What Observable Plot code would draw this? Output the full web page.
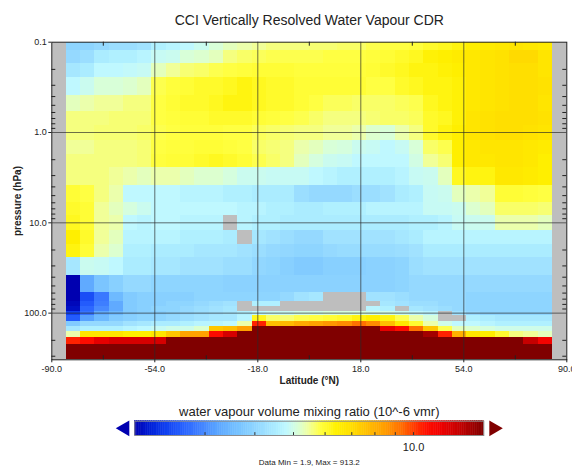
<!DOCTYPE html>
<html>
<head>
<meta charset="utf-8">
<script src="https://cdn.jsdelivr.net/npm/d3@7"></script>
<script src="https://cdn.jsdelivr.net/npm/@observablehq/plot@0.6"></script>
<style>
  html, body { margin: 0; padding: 0; background: #fff; }
  #wrap { width: 572px; height: 467px; overflow: hidden; background: #fff; }
  #wrap svg { display: block; }
</style>
</head>
<body>
<div id="wrap"></div>
<script>
// ---------- text ----------
const chartTitle = "CCI Vertically Resolved Water Vapour CDR";
const xLabel = "Latitude (°N)";
const yLabel = "pressure (hPa)";
const colorbarTitle = "water vapour volume mixing ratio (10^-6 vmr)";
const dataMin = 1.9;
const dataMax = 913.2;

// ---------- grid ----------
const latitudes = [-82.5,-77.5,-72.5,-67.5,-62.5,-57.5,-52.5,-47.5,-42.5,-37.5,-32.5,-27.5,-22.5,-17.5,-12.5,-7.5,-2.5,
  2.5,7.5,12.5,17.5,22.5,27.5,32.5,37.5,42.5,47.5,52.5,57.5,62.5,67.5,72.5,77.5,82.5];
const latitudeDomain = [-90, 90];
const pressureLevels = [0.1,0.15,0.2,0.3,0.5,0.7,1,1.5,2,3,5,7,10,15,20,30,50,70,80,90,100,115,130,150,170,200,250,300];

// ---------- ticks ----------
const xMajorTicks = [-90,-54,-18,18,54,90];
const xGridTicks = [-54,-18,18,54];
const xMinorTicks = [-72,-36,0,36,72];
const yMajorTicks = [0.1,1,10,100];
const yGridTicks = [1,10,100];
const yMinorTicks = [0.2,0.3,0.4,0.5,0.6,0.7,0.8,0.9,2,3,4,5,6,7,8,9,20,30,40,50,60,70,80,90,200,300];

// ---------- colour bar ----------
const colorDomain = [2, 15];
const colorbarTicks = [3,4,5,6,7,8,9,10];
const colorbarLabels = [10];
const colorStopValues = [2.0,2.2,2.4,2.65,2.92,3.2,3.53,3.9,4.29,4.6,4.81,5.15,5.47,5.86,6.46,6.97,7.66,8.44,9.32,10.0,10.8,11.7,13.2,15];
const colorStopColors = ["#0000b0","#0020d8","#1040f0","#2862ff","#4080ff","#58a2ff","#70bcff","#88d0ff","#a0e2ff","#b0f0ff","#c0f8ff","#d8ffd8","#f0ffa0","#ffff40","#fff000","#ffe000","#ffc000","#ffa000","#ff7000","#ff4000","#ff1000","#f00000","#c00000","#800000"];

// ---------- water vapour (ppmv), one array per pressure level, values by latitude ----------
const wv_0p1  = [4.0,4.0,4.1,4.2,4.2,4.3,4.6,4.7,4.8,4.95,5.15,5.3,5.4,5.5,5.6,5.6,5.6,5.65,5.65,5.7,5.7,5.8,5.85,5.85,5.9,6.05,6.15,6.3,6.5,6.6,6.7,6.8,6.7,6.6];
const wv_0p15 = [4.1,4.2,4.5,4.6,4.6,4.7,4.9,4.95,5.15,5.2,5.3,5.6,5.7,5.75,5.8,5.8,5.8,5.8,5.85,5.85,5.85,5.9,5.95,6.05,6.15,6.4,6.5,6.6,6.7,6.8,6.9,7.1,7.1,6.8];
const wv_0p2  = [4.4,4.5,4.8,4.8,4.85,4.9,5.3,5.5,5.65,5.7,5.8,5.85,5.9,5.95,5.95,5.95,5.9,5.9,5.9,5.9,5.9,5.95,6.05,6.15,6.3,6.3,6.4,6.5,6.7,6.8,6.9,7.0,7.0,6.8];
const wv_0p3  = [4.8,4.95,5.15,5.15,5.2,5.3,5.8,5.9,5.95,6.05,6.05,6.15,6.3,6.15,6.05,6.05,5.95,5.95,5.95,5.95,5.95,5.85,5.85,6.05,6.15,6.3,6.3,6.4,6.7,6.8,6.9,7.0,7.0,6.9];
const wv_0p5  = [5.3,5.4,5.5,5.5,5.6,5.6,5.85,5.95,6.05,6.05,6.15,6.3,6.3,6.15,6.05,6.05,5.95,5.85,5.75,5.75,5.7,5.7,5.7,5.75,5.8,6.15,6.3,6.4,6.7,6.8,6.9,7.0,7.0,6.8];
const wv_0p7  = [5.6,5.6,5.6,5.65,5.65,5.65,5.85,5.9,5.95,5.95,6.05,6.05,6.05,5.95,5.9,5.85,5.8,5.7,5.6,5.6,5.6,5.65,5.7,5.7,5.75,6.05,6.15,6.4,6.8,6.9,7.0,7.0,7.0,6.9];
const wv_1    = [5.6,5.6,5.65,5.65,5.65,5.7,5.8,5.85,5.9,5.9,5.9,5.85,5.85,5.75,5.7,5.65,5.6,5.6,5.5,5.5,5.4,5.2,5.15,5.4,5.6,6.05,6.3,6.5,6.8,6.9,7.0,7.0,6.9,6.8];
const wv_1p5  = [5.5,5.5,5.6,5.6,5.6,5.65,5.85,5.9,5.9,5.95,5.95,5.9,5.85,5.7,5.65,5.6,5.4,5.3,5.15,5.1,4.95,4.9,4.8,4.9,5.15,5.7,5.8,6.5,6.7,6.8,6.8,6.8,6.7,6.6];
const wv_2    = [5.6,5.6,5.6,5.6,5.6,5.65,5.9,5.95,5.95,6.05,6.15,6.05,5.95,5.8,5.7,5.6,5.3,5.1,4.95,4.9,4.8,4.8,4.8,4.8,5.05,5.5,5.65,6.5,6.7,6.7,6.8,6.8,6.7,6.5];
const wv_3    = [5.6,5.6,5.6,5.5,5.4,5.3,5.4,5.4,5.3,5.2,5.2,5.1,4.95,4.95,4.9,4.9,4.9,4.8,4.7,4.6,4.6,4.6,4.6,4.7,4.9,4.95,5.3,6.15,6.3,6.3,6.7,6.7,6.6,6.5];
const wv_5    = [5.95,5.85,5.6,5.4,4.8,4.8,4.8,4.8,4.7,4.7,4.7,4.6,4.6,4.5,4.5,4.5,4.2,4.1,4.1,4.1,4.2,4.2,4.3,4.5,4.6,4.9,4.95,5.3,5.4,5.5,5.95,5.95,5.9,5.85];
const wv_7    = [6.05,5.95,5.5,5.3,5.1,4.95,4.8,4.8,4.8,4.8,4.8,4.8,4.7,4.7,4.6,4.6,4.5,4.5,4.6,4.6,4.6,4.7,4.7,4.7,4.7,4.9,4.9,4.95,5.2,5.3,5.7,5.7,5.7,5.65];
const wv_10   = [6.15,5.95,5.5,5.4,4.8,4.7,4.8,4.8,4.7,4.7,4.7,null,4.7,4.6,4.6,4.5,4.5,4.5,4.5,4.5,4.5,4.5,4.5,4.5,4.6,4.6,4.7,4.9,4.95,4.95,5.4,5.4,5.4,5.3];
const wv_15   = [6.5,6.05,5.5,5.3,4.7,4.7,4.7,4.7,4.6,4.6,4.6,4.5,null,4.4,4.3,4.2,4.1,4.1,4.3,4.3,4.3,4.3,4.3,4.4,4.5,4.7,4.7,4.7,4.7,4.7,4.7,4.7,4.7,4.7];
const wv_20   = [6.3,5.95,5.4,5.2,4.6,4.6,4.5,4.5,4.5,4.4,4.4,4.4,4.3,4.2,4.1,4.05,4.0,4.0,4.1,4.15,4.15,4.15,4.15,4.2,4.3,4.5,4.5,4.5,4.5,4.5,4.5,4.5,4.5,4.5];
const wv_30   = [4.4,4.95,4.9,4.8,4.5,4.5,4.4,4.4,4.3,4.3,4.3,4.2,4.2,4.05,4.0,3.9,3.8,3.8,3.9,3.9,3.9,3.95,3.95,4.0,4.2,4.3,4.3,4.3,4.3,4.3,4.3,4.3,4.3,4.3];
const wv_50   = [2.0,3.3,3.7,3.9,4.1,4.1,4.0,4.0,4.0,4.0,4.0,3.95,3.95,3.95,3.95,3.95,3.95,3.95,3.95,3.95,3.95,3.95,3.95,4.0,4.1,4.1,4.1,4.1,4.1,4.1,4.1,4.1,4.1,4.1];
const wv_70   = [2.0,2.5,2.85,3.5,3.8,3.9,3.9,3.9,3.9,4.0,4.0,4.0,4.0,4.0,4.0,4.1,4.3,4.4,null,null,null,4.3,4.3,4.2,4.1,4.1,4.1,4.1,4.0,4.0,4.0,4.0,4.0,4.0];
const wv_80   = [2.05,2.6,2.9,3.3,3.8,3.9,3.9,4.0,4.0,4.1,4.2,4.3,null,4.6,4.6,null,null,null,null,null,null,null,4.4,4.3,4.2,4.2,4.1,4.1,4.0,4.0,4.0,4.0,4.0,4.0];
const wv_90   = [2.1,2.7,3.0,3.3,3.8,3.9,4.0,4.0,4.1,4.2,4.3,4.4,null,null,null,null,null,null,null,null,null,4.7,4.6,null,4.4,4.3,4.2,4.1,4.0,4.0,4.0,4.0,4.0,4.0];
const wv_100  = [2.4,2.8,3.3,3.5,3.8,3.9,3.9,4.0,4.1,4.2,4.3,4.4,4.6,4.8,4.9,4.9,5.0,5.0,5.1,5.1,5.1,5.0,5.0,4.9,4.8,4.7,null,4.3,4.1,4.0,4.0,4.0,4.0,4.0];
const wv_115  = [2.6,3.2,3.5,3.8,3.9,4.0,4.0,4.1,4.2,4.3,4.4,4.4,4.7,6.2,5.7,5.65,5.8,5.85,5.95,6.05,6.3,6.5,6.3,5.8,5.4,5.1,null,null,4.6,4.5,4.4,4.4,4.4,4.4];
const wv_130  = [3.8,4.1,4.1,4.1,4.3,4.4,4.5,4.5,4.6,4.7,4.7,4.8,5.4,10.5,7.7,7.8,8.2,8.4,8.6,8.8,9.3,8.8,7.7,6.7,6.0,5.4,5.0,4.8,4.8,4.7,4.6,4.6,4.6,4.6];
const wv_150  = [4.4,4.6,4.6,4.6,4.7,4.8,4.9,5.0,5.0,5.2,7.5,7.7,8.4,16,16,16,16,16,16,16,16,16,12,11,9.3,7.5,5.8,5.3,5.2,5.1,5.0,5.0,5.0,5.0];
const wv_170  = [5.4,6.8,6.8,6.8,6.5,6.5,6.8,7.5,8.4,8.4,11,12.5,16,16,16,16,16,16,16,16,16,16,16,16,16,14,10.5,8.0,6.7,6.5,6.0,5.6,5.5,5.3];
const wv_200  = [10.5,11,12,12.5,12.5,12.5,12.5,15,16,16,16,16,16,16,16,16,16,16,16,16,16,16,16,16,16,16,16,16,16,16,16,16,13,11.5];
const wv_250  = [16,16,16,16,16,16,16,16,16,16,16,16,16,16,16,16,16,16,16,16,16,16,16,16,16,16,16,16,16,16,16,16,16,16];
const wv_300  = [16,16,16,16,16,16,16,16,16,16,16,16,16,16,16,16,16,16,16,16,16,16,16,16,16,16,16,16,16,16,16,16,16,16];

const profiles = [wv_0p1,wv_0p15,wv_0p2,wv_0p3,wv_0p5,wv_0p7,wv_1,wv_1p5,wv_2,wv_3,wv_5,wv_7,wv_10,wv_15,wv_20,wv_30,wv_50,wv_70,wv_80,wv_90,wv_100,wv_115,wv_130,wv_150,wv_170,wv_200,wv_250,wv_300];

// ---------- build cells ----------
const halfLat = (latitudes[1] - latitudes[0]) / 2;
const nLev = pressureLevels.length;
const pEdges = [pressureLevels[0]];
for (let i = 0; i < nLev - 1; i++) pEdges.push(Math.sqrt(pressureLevels[i] * pressureLevels[i + 1]));
pEdges.push(pressureLevels[nLev - 1] * Math.sqrt(pressureLevels[nLev - 1] / pressureLevels[nLev - 2]));
const pressureDomain = [pEdges[0], pEdges[nLev]];

const cells = [];
profiles.forEach((row, i) => {
  row.forEach((v, j) => {
    if (v == null) return;
    cells.push({x1: latitudes[j] - halfLat, x2: latitudes[j] + halfLat, y1: pEdges[i], y2: pEdges[i + 1], v});
  });
});

// ---------- colour scale ----------
const lo = Math.log(colorDomain[0]), hi = Math.log(colorDomain[1]);
const stopT = colorStopValues.map(v => (Math.log(v) - lo) / (hi - lo));
function interpolator(t) {
  t = Math.max(0, Math.min(1, t));
  let i = d3.bisectRight(stopT, t) - 1;
  i = Math.max(0, Math.min(stopT.length - 2, i));
  const u = (t - stopT[i]) / (stopT[i + 1] - stopT[i]);
  return d3.interpolateRgb(colorStopColors[i], colorStopColors[i + 1])(u);
}
const colorScale = {type: "log", domain: colorDomain, interpolate: interpolator, clamp: true};

const font = "'Liberation Sans', Arial, Helvetica, sans-serif";

// ---------- main chart ----------
const W = 572, H = 395;
const mT = 41.7, mB = 35.7, mL = 51.3, mR = 5.7;
const plotW = W - mL - mR, plotH = H - mT - mB;

const main = Plot.plot({
  width: W, height: H,
  marginTop: mT, marginBottom: mB, marginLeft: mL, marginRight: mR,
  style: {fontFamily: font, fontSize: "9px", color: "#222", background: "white"},
  x: {domain: latitudeDomain},
  y: {type: "log", domain: pressureDomain, reverse: true},
  color: colorScale,
  marks: [
    Plot.frame({fill: "#bebebe"}),
    Plot.rect(cells, {x1: d => d.x1, x2: d => d.x2, y1: d => d.y1, y2: d => d.y2, fill: d => d.v, clip: true, shapeRendering: "crispEdges"}),
    Plot.ruleX(xGridTicks, {x: d => d, stroke: "#2a2a2a", strokeWidth: 0.8, strokeOpacity: 0.85}),
    Plot.ruleY(yGridTicks, {y: d => d, stroke: "#2a2a2a", strokeWidth: 0.8, strokeOpacity: 0.85}),
    Plot.tickX(xMinorTicks, {x: d => d, insetTop: plotH - 4, stroke: "#222"}),
    Plot.tickX(xMinorTicks, {x: d => d, insetBottom: plotH - 4, stroke: "#222"}),
    Plot.tickY(yMinorTicks, {y: d => d, insetRight: plotW - 4, stroke: "#222"}),
    Plot.tickY(yMinorTicks, {y: d => d, insetLeft: plotW - 4, stroke: "#222"}),
    Plot.axisX(xMajorTicks, {anchor: "bottom", tickSize: 3, tickPadding: 3, tickFormat: d => d.toFixed(1), label: null, fontSize: 9}),
    Plot.axisY(yMajorTicks, {anchor: "left", tickSize: 3, tickPadding: 2, tickFormat: d => d.toFixed(1), label: null, fontSize: 9}),
    Plot.frame({stroke: "#222", strokeWidth: 1}),
    Plot.text([chartTitle], {text: d => d, frameAnchor: "top", lineAnchor: "middle", textAnchor: "middle", dy: -22, fontSize: 14, fill: "#222"}),
    Plot.text([xLabel], {text: d => d, frameAnchor: "bottom", lineAnchor: "middle", textAnchor: "middle", dy: 21, fontSize: 10, fontWeight: "bold", fill: "#222"}),
    Plot.text([yLabel], {text: d => d, frameAnchor: "left", lineAnchor: "middle", textAnchor: "middle", rotate: -90, dx: -34, fontSize: 10, fontWeight: "bold", fill: "#222"})
  ]
});

// ---------- colour bar ----------
const CW = 572, CH = 72;
const cT = 25.7, cB = 32, cL = 134.3, cR = 88.7;
const nSeg = 160;
const segEdges = d3.range(nSeg + 1).map(i => Math.exp(lo + (hi - lo) * i / nSeg));
const segments = d3.range(nSeg).map(i => ({x1: segEdges[i], x2: segEdges[i + 1], v: Math.sqrt(segEdges[i] * segEdges[i + 1])}));

const bar = Plot.plot({
  width: CW, height: CH,
  marginTop: cT, marginBottom: cB, marginLeft: cL, marginRight: cR,
  style: {fontFamily: font, fontSize: "10px", color: "#222", background: "white", overflow: "visible"},
  x: {type: "log", domain: colorDomain, axis: null},
  y: {domain: [0, 1], axis: null},
  color: colorScale,
  marks: [
    Plot.rect(segments, {x1: d => d.x1, x2: d => d.x2, y1: 0, y2: 1, fill: d => d.v, stroke: d => d.v, strokeWidth: 0.5}),
    Plot.frame({stroke: "#8c8c8c", strokeWidth: 1}),
    Plot.ruleX(colorbarTicks, {x: d => d, y1: 0, y2: 0.2, stroke: "#333", strokeWidth: 1}),
    Plot.text(colorbarLabels, {x: d => d, y: 0, dy: 12, text: d => d.toFixed(1), fontSize: 11, fill: "#222"}),
    Plot.dot([colorDomain[0]], {x: d => d, y: 0.5, symbol: "triangle", r: 5.8, rotate: -90, dx: -10, fill: interpolator(0), stroke: "none"}),
    Plot.dot([colorDomain[1]], {x: d => d, y: 0.5, symbol: "triangle", r: 5.8, rotate: 90, dx: 10, fill: interpolator(1), stroke: "none"}),
    Plot.text([colorbarTitle], {text: d => d, frameAnchor: "top", lineAnchor: "middle", textAnchor: "middle", dy: -9, fontSize: 13, fill: "#222"}),
    Plot.text([`Data Min = ${dataMin}, Max = ${dataMax}`], {text: d => d, frameAnchor: "bottom", lineAnchor: "middle", textAnchor: "middle", dy: 27, fontSize: 8, fill: "#222"})
  ]
});

const wrap = document.getElementById("wrap");
wrap.appendChild(main);
wrap.appendChild(bar);
</script>
</body>
</html>
